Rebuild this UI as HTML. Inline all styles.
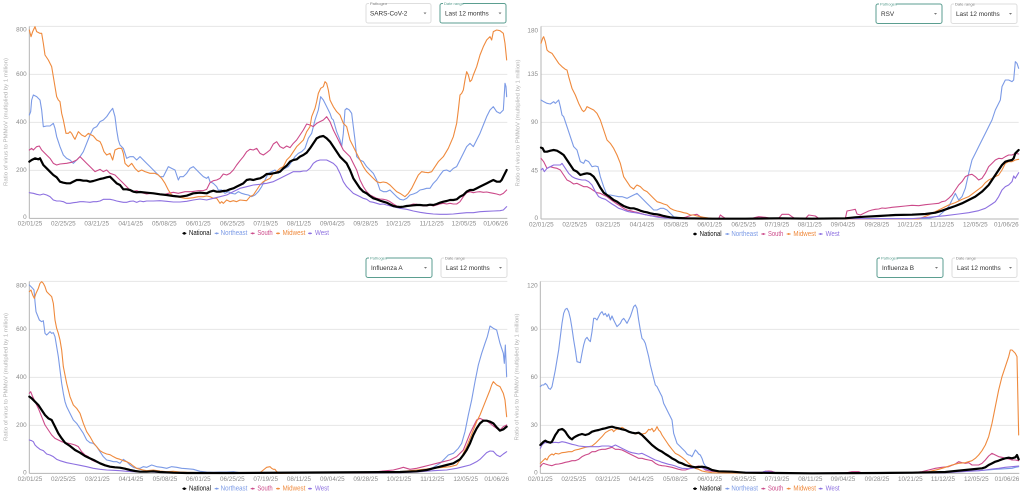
<!DOCTYPE html>
<html><head><meta charset="utf-8"><style>
html,body{margin:0;padding:0;background:#fff;}
svg{display:block;font-family:"Liberation Sans",sans-serif;}
</style></head><body>
<svg width="1024" height="496" viewBox="0 0 1024 496" xmlns="http://www.w3.org/2000/svg">
<defs>
<style>
.g{stroke:#e6e6e6;stroke-width:3;fill:none}
.ax{stroke:#b5b5b5;stroke-width:3;fill:none}
.yl{font-size:19px;fill:#8a8a8a;text-anchor:end;dominant-baseline:middle}
.xl{font-size:19px;fill:#8a8a8a;text-anchor:middle;dominant-baseline:middle}
.lg{font-size:21px;dominant-baseline:middle}
.s{fill:none;stroke-width:3.3;stroke-linejoin:round;stroke-linecap:round}
.ne{stroke:#7b9ae6}.so{stroke:#cc4a8a}.mw{stroke:#ef8a3d}.we{stroke:#8d70e0}.na{stroke:#000;stroke-width:6.6}
.at{font-size:5.4px;fill:#b0b0b0;text-anchor:middle;dominant-baseline:middle}
.cl{font-size:4px;fill:#777}
.cv{font-size:6.4px;fill:#333;dominant-baseline:middle}
</style>
<g id="leg">
<line x1="547" y1="0" x2="559" y2="0" stroke="#000" stroke-width="3"/><circle cx="553" cy="0" r="4" fill="#000"/><text class="lg" x="567" y="0" fill="#111" textLength="66" lengthAdjust="spacingAndGlyphs">National</text>
<line x1="644" y1="0" x2="656" y2="0" stroke="#7b9ae6" stroke-width="3"/><circle cx="650" cy="0" r="3" fill="#7b9ae6"/><text class="lg" x="662" y="0" fill="#7b9ae6" textLength="80" lengthAdjust="spacingAndGlyphs">Northeast</text>
<line x1="752" y1="0" x2="764" y2="0" stroke="#cc4a8a" stroke-width="3"/><circle cx="758" cy="0" r="3" fill="#cc4a8a"/><text class="lg" x="772" y="0" fill="#cc4a8a" textLength="46" lengthAdjust="spacingAndGlyphs">South</text>
<line x1="828" y1="0" x2="840" y2="0" stroke="#ef8a3d" stroke-width="3"/><circle cx="834" cy="0" r="3" fill="#ef8a3d"/><text class="lg" x="848" y="0" fill="#ef8a3d" textLength="68" lengthAdjust="spacingAndGlyphs">Midwest</text>
<line x1="924" y1="0" x2="936" y2="0" stroke="#8d70e0" stroke-width="3"/><circle cx="930" cy="0" r="3" fill="#8d70e0"/><text class="lg" x="945" y="0" fill="#8d70e0" textLength="42" lengthAdjust="spacingAndGlyphs">West</text>
</g>
</defs>

<!-- ============ TOP LEFT ============ -->
<g transform="translate(0,0) scale(0.33333)">
<line class="g" x1="88" y1="79" x2="1522" y2="79"/><line class="g" x1="88" y1="223" x2="1522" y2="223"/><line class="g" x1="88" y1="367" x2="1522" y2="367"/><line class="g" x1="88" y1="511" x2="1522" y2="511"/>
<line class="ax" x1="88" y1="79" x2="88" y2="655"/><line class="ax" x1="88" y1="655" x2="1522" y2="655"/>
<text class="yl" x="80" y="90">800</text><text class="yl" x="80" y="223">600</text><text class="yl" x="80" y="367">400</text><text class="yl" x="80" y="511">200</text><text class="yl" x="80" y="652">0</text>
<text class="xl" x="90" y="672">02/01/25</text><text class="xl" x="190" y="672">02/25/25</text><text class="xl" x="290" y="672">03/21/25</text><text class="xl" x="392" y="672">04/14/25</text><text class="xl" x="493" y="672">05/08/25</text><text class="xl" x="595" y="672">06/01/25</text><text class="xl" x="697" y="672">06/25/25</text><text class="xl" x="797" y="672">07/19/25</text><text class="xl" x="897" y="672">08/11/25</text><text class="xl" x="997" y="672">09/04/25</text><text class="xl" x="1097" y="672">09/28/25</text><text class="xl" x="1195" y="672">10/21/25</text><text class="xl" x="1295" y="672">11/12/25</text><text class="xl" x="1392" y="672">12/05/25</text><text class="xl" x="1487" y="672">01/06/26</text>

<polyline class="s ne" points="88,345 92,335 95,300 100,285 110,290 120,300 125,330 130,380 140,378 150,378 160,370 165,385 170,410 180,440 190,465 200,475 210,480 220,490 230,480 240,470 250,455 260,430 270,405 280,385 290,380 300,365 310,360 320,350 330,335 338,325 345,350 350,390 355,420 360,435 370,445 380,475 390,470 400,470 410,480 420,470 430,480 440,490 450,500 460,510 470,520 480,530 490,530 500,510 505,500 515,505 525,510 535,540 540,530 550,530 560,520 570,505 580,500 590,510 600,520 610,530 620,535 625,530 630,545 640,550 650,560 655,570 665,570 675,580 685,575 695,580 705,582 715,575 725,580 735,583 745,585 755,590 765,585 775,575 785,560 795,540 805,520 815,515 825,510 835,520 845,510 855,505 865,500 875,485 885,470 895,460 905,455 915,445 925,415 935,400 945,360 955,330 962,290 970,300 980,320 990,340 995,355 1000,360 1010,395 1020,420 1025,440 1030,400 1035,330 1040,325 1048,330 1055,340 1060,380 1065,420 1070,470 1080,480 1090,485 1100,500 1110,510 1120,520 1130,540 1140,570 1150,575 1160,575 1170,570 1180,580 1190,590 1200,598 1210,600 1220,595 1230,585 1240,582 1250,578 1260,570 1270,568 1280,565 1290,565 1300,550 1310,540 1320,525 1330,512 1340,510 1350,515 1360,505 1370,500 1380,480 1390,460 1400,440 1410,430 1420,440 1430,420 1440,400 1450,375 1460,350 1470,330 1480,320 1490,335 1500,340 1510,330 1515,250 1518,260 1520,290"/>
<polyline class="s so" points="88,450 95,445 100,450 110,440 118,438 125,450 135,460 150,475 160,490 170,495 180,492 200,490 215,487 230,480 240,470 250,480 260,490 270,500 285,515 300,508 310,515 320,510 330,520 345,525 355,535 365,545 375,555 385,565 395,575 410,572 425,578 440,582 455,580 470,582 490,585 505,580 520,577 535,580 555,575 575,575 595,572 610,572 620,568 630,548 640,542 650,540 660,535 670,522 680,525 690,520 700,510 710,495 720,482 730,470 740,455 750,448 760,450 770,445 780,460 790,465 800,458 810,450 820,432 830,425 840,440 850,445 860,438 870,443 880,430 890,420 900,405 910,390 920,372 930,375 940,380 950,370 960,365 970,360 975,355 980,350 990,365 1000,390 1010,410 1020,430 1030,450 1040,460 1050,470 1060,490 1070,510 1080,540 1090,560 1100,575 1110,585 1120,590 1130,595 1140,597 1150,598 1160,600 1170,605 1180,612 1190,618 1200,620 1210,620 1220,618 1230,615 1240,612 1250,613 1260,615 1270,618 1280,618 1290,615 1300,618 1310,615 1320,612 1330,610 1340,612 1350,610 1360,612 1370,612 1380,605 1390,590 1400,578 1410,575 1420,578 1430,576 1440,575 1450,577 1460,576 1470,578 1480,580 1490,582 1500,585 1510,580 1520,570"/>
<polyline class="s mw" points="88,90 93,110 98,95 105,80 110,95 120,100 125,100 130,130 135,165 145,180 155,200 160,230 165,260 170,290 175,300 180,305 185,340 190,360 198,400 205,400 210,395 215,400 220,410 225,418 235,395 245,405 255,410 265,400 280,408 290,420 300,425 305,435 312,455 320,465 330,460 338,480 345,450 355,445 365,445 370,460 375,490 385,500 395,490 405,505 415,515 425,510 435,515 450,520 465,520 475,525 485,535 495,550 505,570 515,585 525,590 540,592 555,595 565,595 580,593 595,590 610,590 620,588 630,590 640,595 650,595 660,610 665,605 670,610 680,600 690,605 700,602 710,605 720,600 740,602 750,590 760,585 770,570 780,555 790,545 800,540 810,535 820,520 830,515 840,505 850,500 860,480 870,470 880,455 890,440 900,430 910,420 920,395 930,380 935,350 945,325 950,305 955,280 962,265 970,260 975,245 980,250 985,270 990,300 995,310 1000,320 1010,335 1020,345 1030,370 1040,380 1045,400 1050,420 1060,440 1070,460 1080,480 1090,500 1100,515 1110,525 1120,535 1130,545 1140,548 1150,546 1160,548 1170,555 1180,565 1190,575 1200,580 1215,590 1225,580 1235,565 1245,545 1255,525 1265,515 1275,517 1285,518 1295,515 1305,500 1315,485 1330,470 1345,445 1360,410 1370,370 1375,330 1380,285 1385,280 1390,270 1395,240 1400,215 1405,225 1410,245 1415,240 1420,225 1430,200 1440,165 1450,140 1460,120 1470,110 1475,120 1480,95 1490,90 1500,92 1510,100 1515,130 1520,180"/>
<polyline class="s we" points="88,578 100,580 110,583 120,585 130,582 140,585 150,590 160,600 170,603 180,603 190,605 200,610 210,610 220,608 230,607 240,605 250,605 260,606 270,607 280,605 290,605 300,603 310,598 320,598 330,598 340,600 350,603 360,605 370,607 380,607 390,604 400,603 410,607 420,603 430,605 440,603 460,603 480,602 500,604 520,606 540,606 560,604 580,600 600,597 620,600 640,595 660,590 680,585 700,575 720,565 740,560 760,555 780,553 800,550 820,545 840,535 860,525 870,520 880,515 900,515 910,513 920,513 930,505 940,490 950,483 960,480 970,480 980,480 990,485 1000,490 1010,500 1020,520 1030,545 1040,560 1050,570 1060,580 1070,585 1080,590 1090,595 1100,598 1110,605 1120,607 1130,610 1140,613 1150,612 1160,615 1180,620 1200,625 1220,628 1240,633 1260,637 1280,640 1300,642 1320,643 1340,643 1360,642 1380,640 1400,638 1420,638 1440,635 1460,634 1480,633 1500,632 1510,630 1520,620"/>
<polyline class="s na" points="88,485 95,480 105,475 115,478 120,475 130,495 140,505 150,515 160,525 170,532 180,545 190,548 200,550 210,550 220,545 230,540 240,540 250,542 260,542 270,545 280,543 290,540 300,537 310,535 320,532 330,530 340,540 350,550 360,555 370,568 380,568 390,570 400,575 410,577 420,576 440,578 460,580 480,583 500,585 520,588 540,590 560,587 580,580 600,578 620,580 630,575 640,572 650,575 660,575 670,573 680,572 690,568 700,565 710,560 720,555 730,550 740,540 750,538 760,540 770,537 780,535 790,530 800,522 810,522 820,520 830,518 840,515 850,505 860,497 870,485 880,480 890,478 900,470 910,465 920,458 930,445 940,430 950,415 960,410 970,408 980,415 990,425 1000,440 1010,455 1020,470 1030,480 1040,490 1050,510 1060,535 1070,550 1080,565 1090,575 1100,580 1110,588 1120,595 1130,598 1140,602 1150,605 1160,608 1170,613 1180,618 1190,620 1200,621 1210,620 1220,618 1230,617 1240,616 1250,615 1260,615 1270,616 1280,616 1290,614 1300,615 1310,612 1320,608 1330,605 1340,603 1350,600 1360,600 1370,598 1380,590 1390,585 1400,575 1410,570 1420,570 1430,565 1440,560 1450,555 1460,550 1470,545 1480,540 1490,545 1500,545 1505,540 1510,530 1520,510"/>
<use href="#leg" transform="translate(0,700)"/>
</g>

<!-- ============ TOP RIGHT ============ -->
<g transform="translate(512,0) scale(0.33333)">
<line class="g" x1="87" y1="79" x2="1520" y2="79"/><line class="g" x1="87" y1="223" x2="1520" y2="223"/><line class="g" x1="87" y1="367" x2="1520" y2="367"/><line class="g" x1="87" y1="513" x2="1520" y2="513"/>
<line class="ax" x1="87" y1="79" x2="87" y2="657"/><line class="ax" x1="87" y1="657" x2="1520" y2="657"/>
<text class="yl" x="78" y="92">180</text><text class="yl" x="78" y="223">135</text><text class="yl" x="78" y="367">90</text><text class="yl" x="78" y="513">45</text><text class="yl" x="78" y="655">0</text>
<text class="xl" x="88" y="674">02/01/25</text><text class="xl" x="188" y="674">02/25/25</text><text class="xl" x="288" y="674">03/21/25</text><text class="xl" x="390" y="674">04/14/25</text><text class="xl" x="492" y="674">05/08/25</text><text class="xl" x="593" y="674">06/01/25</text><text class="xl" x="695" y="674">06/25/25</text><text class="xl" x="795" y="674">07/19/25</text><text class="xl" x="893" y="674">08/11/25</text><text class="xl" x="993" y="674">09/04/25</text><text class="xl" x="1095" y="674">09/28/25</text><text class="xl" x="1193" y="674">10/21/25</text><text class="xl" x="1290" y="674">11/12/25</text><text class="xl" x="1390" y="674">12/05/25</text><text class="xl" x="1483" y="674">01/06/26</text>

<polyline class="s ne" points="87,300 95,305 105,310 115,312 125,305 130,310 140,300 145,320 150,345 155,350 165,380 175,410 185,440 195,450 205,485 215,490 220,480 230,485 240,500 250,498 258,500 265,530 275,560 285,585 295,585 310,588 320,590 330,590 345,595 355,590 365,585 375,580 385,590 395,600 405,610 415,620 425,630 435,630 445,625 455,625 465,630 475,640 485,650 495,652 510,654 530,655 600,656 1200,656 1250,655 1280,648 1300,630 1310,620 1320,600 1330,580 1340,600 1350,590 1360,565 1370,520 1380,480 1390,460 1400,440 1410,420 1420,400 1430,380 1440,360 1450,330 1460,310 1465,300 1470,260 1480,240 1490,240 1500,245 1505,240 1510,185 1515,190 1520,205"/>
<polyline class="s so" points="87,475 95,485 105,505 115,500 125,503 135,505 145,510 155,525 165,540 175,545 185,552 195,550 205,555 215,560 225,560 235,565 245,572 255,578 265,580 275,585 285,590 295,598 305,605 315,612 325,618 335,625 345,630 355,632 365,635 375,637 385,640 395,643 405,645 415,647 425,648 440,650 460,652 480,654 500,655 520,652 540,645 555,643 565,650 580,655 600,656 620,656 625,645 632,650 640,655 660,656 700,656 720,655 740,650 760,652 780,656 800,655 810,643 830,643 840,650 850,656 880,656 890,645 910,648 920,655 940,656 1000,655 1005,633 1020,630 1030,628 1035,642 1045,645 1055,640 1070,633 1080,630 1090,628 1100,627 1110,624 1120,625 1140,622 1160,620 1180,618 1200,616 1220,617 1240,614 1260,612 1280,610 1290,605 1300,603 1310,595 1320,585 1330,570 1340,555 1350,545 1360,530 1370,525 1380,523 1390,530 1400,540 1410,535 1420,520 1430,500 1440,490 1450,480 1460,475 1470,476 1480,470 1490,465 1500,465 1510,460 1520,462"/>
<polyline class="s mw" points="87,130 92,115 95,110 100,125 105,150 110,155 120,160 130,175 140,190 150,200 160,208 165,210 170,230 180,265 190,285 200,310 210,330 215,335 220,330 225,320 235,325 245,330 255,340 265,360 275,390 285,420 295,430 305,445 315,465 325,490 335,530 345,545 355,560 365,567 370,560 375,555 385,560 395,570 405,575 415,585 425,595 435,605 445,608 455,612 465,615 475,625 485,630 495,633 505,635 515,638 525,640 535,645 545,645 555,648 565,650 575,652 590,654 600,655 620,656 680,657 1220,657 1250,645 1270,635 1290,625 1310,615 1330,608 1350,598 1370,590 1390,575 1410,560 1420,548 1430,540 1440,535 1450,530 1460,525 1470,510 1480,490 1490,485 1500,485 1510,480 1520,478"/>
<polyline class="s we" points="87,510 92,505 97,515 105,505 115,500 125,495 135,495 145,495 150,490 160,505 170,520 180,530 190,535 200,538 210,540 220,540 230,545 240,555 250,575 260,590 270,595 280,598 290,605 300,612 310,618 320,625 330,628 340,632 350,635 360,637 370,638 380,640 390,642 400,644 410,646 420,648 430,650 440,652 460,654 480,655 500,656 1200,656 1250,652 1300,647 1340,642 1370,638 1400,632 1420,625 1440,612 1450,605 1460,590 1470,570 1480,560 1490,555 1500,545 1505,528 1510,535 1520,518"/>
<polyline class="s na" points="87,443 92,445 97,455 105,455 115,452 125,450 135,452 145,458 155,465 165,480 175,495 185,510 195,515 205,525 215,522 225,520 235,522 245,530 255,545 265,563 275,578 285,585 295,592 305,600 315,605 325,612 335,618 345,622 355,625 365,625 375,628 385,632 395,635 405,637 415,640 425,642 435,643 445,645 455,648 465,650 475,652 485,653 500,654 520,655 600,656 700,656 800,655 900,656 1000,655 1030,652 1060,650 1100,648 1150,645 1200,644 1240,642 1270,638 1290,632 1310,625 1330,618 1350,610 1370,600 1390,590 1410,575 1430,555 1440,540 1450,525 1460,510 1470,495 1480,485 1490,482 1500,480 1505,475 1510,460 1515,455 1520,450"/>
<use href="#leg" transform="translate(-4,702)"/>
</g>

<!-- ============ BOTTOM LEFT ============ -->
<g transform="translate(0,250) scale(0.33333)">
<line class="g" x1="88" y1="94" x2="1522" y2="94"/><line class="g" x1="88" y1="238" x2="1522" y2="238"/><line class="g" x1="88" y1="382" x2="1522" y2="382"/><line class="g" x1="88" y1="526" x2="1522" y2="526"/>
<line class="ax" x1="88" y1="94" x2="88" y2="670"/><line class="ax" x1="88" y1="670" x2="1522" y2="670"/>
<text class="yl" x="80" y="107">800</text><text class="yl" x="80" y="238">600</text><text class="yl" x="80" y="382">400</text><text class="yl" x="80" y="526">200</text><text class="yl" x="80" y="668">0</text>
<text class="xl" x="90" y="688">02/01/25</text><text class="xl" x="190" y="688">02/25/25</text><text class="xl" x="292" y="688">03/21/25</text><text class="xl" x="393" y="688">04/14/25</text><text class="xl" x="495" y="688">05/08/25</text><text class="xl" x="595" y="688">06/01/25</text><text class="xl" x="697" y="688">06/25/25</text><text class="xl" x="797" y="688">07/19/25</text><text class="xl" x="897" y="688">08/11/25</text><text class="xl" x="997" y="688">09/04/25</text><text class="xl" x="1097" y="688">09/28/25</text><text class="xl" x="1197" y="688">10/21/25</text><text class="xl" x="1297" y="688">11/12/25</text><text class="xl" x="1397" y="688">12/05/25</text><text class="xl" x="1490" y="688">01/06/26</text>

<polyline class="s ne" points="88,105 93,110 98,115 102,120 105,155 108,185 112,195 118,210 125,215 130,212 135,250 140,255 145,250 150,245 155,250 160,248 165,260 170,290 175,320 180,360 185,400 190,430 195,455 200,470 210,490 220,510 230,520 240,535 250,550 260,570 270,578 280,580 290,590 300,605 310,620 320,630 330,632 340,635 350,635 360,640 370,628 380,635 390,645 400,652 410,655 420,655 430,650 440,652 455,645 470,650 485,652 500,655 515,650 530,652 545,655 560,656 580,658 600,664 620,666 640,667 660,666 680,666 700,665 720,668 740,668 760,669 780,668 800,669 900,668 1000,669 1100,668 1150,667 1200,666 1250,664 1280,660 1300,652 1320,640 1335,625 1345,615 1360,610 1375,595 1385,580 1395,545 1405,495 1415,450 1425,395 1435,345 1445,310 1455,280 1462,260 1470,228 1480,235 1490,240 1500,280 1510,310 1513,340 1516,285 1520,380"/>
<polyline class="s so" points="88,430 92,425 98,440 105,455 115,475 125,500 135,525 145,540 155,555 165,565 175,570 185,575 195,578 205,580 215,582 225,585 235,590 245,605 255,615 265,620 275,630 285,635 300,640 315,645 330,650 345,652 360,653 375,655 390,660 405,663 420,665 440,664 460,662 480,665 500,666 560,668 700,669 1100,668 1180,660 1200,655 1210,652 1220,655 1230,658 1250,655 1270,650 1290,645 1310,640 1330,635 1350,630 1370,620 1390,600 1400,575 1410,550 1420,530 1430,510 1440,505 1450,510 1460,512 1470,520 1480,528 1490,535 1500,540 1510,530 1520,525"/>
<polyline class="s mw" points="88,125 93,120 98,135 103,145 108,130 115,115 120,100 125,95 130,100 135,110 140,125 145,130 150,135 155,140 160,160 165,210 170,235 175,250 180,270 185,300 190,350 200,400 210,440 220,465 230,475 240,490 250,520 260,545 270,560 280,578 290,590 300,602 310,608 320,612 330,614 340,620 350,625 360,628 370,632 380,635 390,640 400,648 410,655 420,658 430,660 440,662 460,660 480,663 500,665 520,664 540,666 560,667 600,668 700,669 780,668 790,660 800,652 810,650 815,655 820,658 825,658 830,665 840,670 900,669 1000,669 1100,668 1200,665 1250,660 1300,655 1350,650 1370,645 1380,630 1390,610 1400,590 1410,565 1420,540 1430,515 1440,495 1450,470 1460,445 1470,420 1475,405 1480,395 1485,400 1490,405 1500,410 1505,420 1510,430 1515,450 1520,500"/>
<polyline class="s we" points="88,570 95,572 100,575 105,585 110,590 120,598 130,602 140,612 150,615 160,620 170,628 180,632 190,635 200,638 220,642 240,646 260,650 280,655 300,658 320,660 340,661 360,662 380,664 400,665 450,666 500,668 600,669 1200,668 1250,666 1300,662 1340,660 1370,655 1390,650 1410,645 1420,640 1430,635 1440,628 1450,618 1460,608 1470,603 1480,604 1490,615 1500,620 1510,612 1520,605"/>
<polyline class="s na" points="88,440 95,445 105,455 115,465 125,480 135,495 145,505 155,510 165,530 175,550 185,565 195,578 210,588 225,600 240,608 255,618 270,625 285,632 300,640 315,646 330,650 345,652 360,653 375,656 390,660 405,663 420,665 440,665 460,664 480,666 500,667 520,668 560,669 600,669 700,669 1200,666 1250,664 1280,660 1300,655 1320,650 1340,645 1360,640 1380,628 1390,615 1400,600 1410,580 1420,555 1430,535 1440,520 1450,512 1460,512 1470,515 1480,520 1490,532 1500,542 1505,540 1510,538 1520,530"/>
<use href="#leg" transform="translate(0,716)"/>
</g>

<!-- ============ BOTTOM RIGHT ============ -->
<g transform="translate(512,250) scale(0.33333)">
<line class="g" x1="85" y1="94" x2="1522" y2="94"/><line class="g" x1="85" y1="238" x2="1522" y2="238"/><line class="g" x1="85" y1="382" x2="1522" y2="382"/><line class="g" x1="85" y1="526" x2="1522" y2="526"/>
<line class="ax" x1="85" y1="94" x2="85" y2="670"/><line class="ax" x1="85" y1="670" x2="1522" y2="670"/>
<text class="yl" x="77" y="107">120</text><text class="yl" x="77" y="238">90</text><text class="yl" x="77" y="382">60</text><text class="yl" x="77" y="526">30</text><text class="yl" x="77" y="668">0</text>
<text class="xl" x="85" y="688">02/01/25</text><text class="xl" x="185" y="688">02/25/25</text><text class="xl" x="287" y="688">03/21/25</text><text class="xl" x="388" y="688">04/14/25</text><text class="xl" x="490" y="688">05/08/25</text><text class="xl" x="593" y="688">06/01/25</text><text class="xl" x="695" y="688">06/25/25</text><text class="xl" x="795" y="688">07/19/25</text><text class="xl" x="895" y="688">08/11/25</text><text class="xl" x="993" y="688">09/04/25</text><text class="xl" x="1095" y="688">09/28/25</text><text class="xl" x="1195" y="688">10/21/25</text><text class="xl" x="1293" y="688">11/12/25</text><text class="xl" x="1393" y="688">12/05/25</text><text class="xl" x="1485" y="688">01/06/26</text>

<polyline class="s ne" points="85,410 90,405 95,405 100,400 105,405 110,415 115,418 120,410 125,385 130,360 135,330 140,300 145,260 150,220 155,190 160,178 165,175 170,185 175,205 180,235 185,270 190,300 195,335 205,338 210,310 215,285 220,268 225,262 230,270 235,275 240,245 245,205 250,205 255,210 260,200 265,190 270,185 275,195 280,190 285,200 290,192 295,210 300,198 305,210 310,220 315,230 320,225 325,220 330,210 335,205 340,212 345,220 350,210 355,200 360,185 365,170 370,165 375,175 380,210 385,240 390,265 395,270 400,280 405,300 410,320 415,345 420,365 425,385 430,405 435,410 440,420 445,430 450,440 455,460 460,470 465,480 470,490 475,500 480,510 485,550 490,565 495,580 500,585 505,590 510,595 515,600 520,605 525,612 530,615 535,616 540,620 545,610 550,600 555,605 560,612 565,615 570,625 575,640 580,648 590,655 600,660 620,663 650,665 700,667 750,668 800,669 900,669 1200,668 1250,667 1300,665 1350,663 1400,662 1450,658 1500,655 1510,652 1520,650"/>
<polyline class="s so" points="85,650 90,643 95,640 100,642 110,645 120,647 130,643 140,642 150,640 160,637 170,635 180,632 190,632 200,628 210,620 220,615 230,612 240,605 250,605 260,600 270,598 280,598 290,595 300,592 310,598 320,598 330,600 340,605 350,610 360,615 370,620 380,625 390,625 400,628 410,630 420,632 430,640 440,645 450,647 460,648 470,650 480,652 490,655 500,658 510,660 520,660 530,657 540,652 550,650 560,648 570,652 580,660 590,662 600,664 650,666 700,668 750,667 760,664 770,663 780,664 790,668 800,669 900,670 1000,669 1020,665 1040,665 1050,669 1200,668 1230,665 1250,660 1270,655 1290,652 1310,650 1330,642 1340,635 1350,638 1360,640 1370,638 1380,645 1390,645 1400,645 1410,640 1420,630 1430,618 1440,610 1450,615 1460,620 1470,622 1480,625 1490,627 1500,630 1510,630 1520,632"/>
<polyline class="s mw" points="85,640 90,635 95,630 100,625 105,630 110,620 115,615 120,612 125,615 130,610 140,612 150,608 160,607 170,605 180,605 185,602 190,600 200,598 210,595 220,592 230,590 240,588 250,580 260,570 270,560 280,548 290,542 300,538 305,545 310,540 315,537 320,538 330,532 335,535 340,540 350,545 360,548 370,552 380,550 390,552 400,550 405,545 410,538 415,540 420,535 425,545 430,540 435,530 440,540 445,545 450,555 460,570 470,585 480,598 490,610 500,615 510,622 520,630 530,640 540,648 550,655 560,658 570,663 580,665 600,668 650,669 800,670 1000,669 1200,668 1250,665 1280,658 1300,652 1320,645 1340,640 1360,638 1380,632 1390,625 1400,615 1410,602 1420,585 1430,560 1440,520 1450,470 1460,420 1470,380 1480,350 1490,320 1495,300 1500,300 1505,305 1510,310 1515,320 1520,555"/>
<polyline class="s we" points="85,595 90,585 95,580 100,578 120,578 130,577 140,578 150,575 160,577 170,580 180,583 190,585 200,588 220,590 260,590 270,588 290,588 300,590 310,585 320,590 330,595 340,600 350,605 360,608 370,610 380,612 390,610 400,615 410,620 420,625 430,630 440,633 450,637 460,640 470,643 480,645 490,648 500,652 510,655 530,656 540,655 550,653 560,652 570,653 580,658 590,660 600,662 620,664 650,665 700,667 750,667 760,664 780,666 800,669 900,670 1200,669 1300,668 1350,665 1400,662 1420,660 1440,657 1460,655 1480,652 1500,650 1520,648"/>
<polyline class="s na" points="85,585 90,580 95,575 100,572 105,575 115,578 120,575 125,565 130,555 135,548 140,540 150,537 155,540 160,545 165,553 170,560 175,565 180,568 185,563 190,560 200,555 210,552 220,555 230,552 240,545 250,542 260,540 270,537 280,535 290,532 300,530 310,533 320,535 330,538 340,540 350,545 360,548 370,550 380,548 390,555 400,565 410,575 420,585 430,593 440,600 450,605 460,612 470,618 480,625 490,630 500,637 510,640 520,645 530,648 540,650 550,652 560,651 570,650 580,652 590,655 600,660 610,662 620,664 660,665 700,668 800,669 900,670 1100,669 1200,668 1250,667 1300,666 1330,663 1360,660 1390,657 1410,655 1420,652 1430,645 1440,640 1450,635 1460,632 1470,628 1480,625 1490,623 1500,625 1510,622 1515,615 1520,628"/>
<use href="#leg" transform="translate(-4,716)"/>
</g>

<!-- Axis titles -->
<text class="at" transform="translate(6,122) rotate(-90)" textLength="128" lengthAdjust="spacingAndGlyphs">Ratio of virus to PMMoV (multiplied by 1 million)</text>
<text class="at" transform="translate(518,123) rotate(-90)" textLength="127" lengthAdjust="spacingAndGlyphs">Ratio of virus to PMMoV (multiplied by 1 million)</text>
<text class="at" transform="translate(6,377) rotate(-90)" textLength="128" lengthAdjust="spacingAndGlyphs">Ratio of virus to PMMoV (multiplied by 1 million)</text>
<text class="at" transform="translate(517,377) rotate(-90)" textLength="127" lengthAdjust="spacingAndGlyphs">Ratio of virus to PMMoV (multiplied by 1 million)</text>

<!-- Controls -->
<!-- TL -->
<rect x="366" y="3.5" width="65" height="19.5" rx="2" fill="#fff" stroke="#dedede"/>
<rect x="369" y="1.5" width="17" height="4" fill="#fff"/><text class="cl" x="370" y="5">Pathogen</text>
<text class="cv" x="370" y="14">SARS-CoV-2</text><path d="M423.5,12.5 l3,0 l-1.5,1.8 z" fill="#777"/>
<rect x="440" y="3.5" width="66" height="19.5" rx="2" fill="#fff" stroke="#5b9e90"/>
<rect x="443" y="1.5" width="20" height="4" fill="#fff"/><text class="cl" x="444" y="5" style="fill:#5b9e90">Date range</text>
<text class="cv" x="445" y="14">Last 12 months</text><path d="M498.5,12.5 l3,0 l-1.5,1.8 z" fill="#777"/>
<!-- TR -->
<rect x="876" y="4" width="66" height="19.5" rx="2" fill="#fff" stroke="#5b9e90"/>
<rect x="879" y="2" width="17" height="4" fill="#fff"/><text class="cl" x="880" y="5.5" style="fill:#5b9e90">Pathogen</text>
<text class="cv" x="881" y="14.5">RSV</text><path d="M934,13 l3,0 l-1.5,1.8 z" fill="#777"/>
<rect x="951" y="4" width="66" height="19.5" rx="2" fill="#fff" stroke="#dedede"/>
<rect x="954" y="2" width="20" height="4" fill="#fff"/><text class="cl" x="955" y="5.5">Date range</text>
<text class="cv" x="956" y="14.5">Last 12 months</text><path d="M1009,13 l3,0 l-1.5,1.8 z" fill="#777"/>
<!-- BL -->
<rect x="366" y="258" width="66" height="19.5" rx="2" fill="#fff" stroke="#5b9e90"/>
<rect x="369" y="256" width="17" height="4" fill="#fff"/><text class="cl" x="370" y="259.5" style="fill:#5b9e90">Pathogen</text>
<text class="cv" x="371" y="268.5">Influenza A</text><path d="M424,267 l3,0 l-1.5,1.8 z" fill="#777"/>
<rect x="441" y="258" width="66" height="19.5" rx="2" fill="#fff" stroke="#dedede"/>
<rect x="444" y="256" width="20" height="4" fill="#fff"/><text class="cl" x="445" y="259.5">Date range</text>
<text class="cv" x="446" y="268.5">Last 12 months</text><path d="M499,267 l3,0 l-1.5,1.8 z" fill="#777"/>
<!-- BR -->
<rect x="877" y="258" width="66" height="19.5" rx="2" fill="#fff" stroke="#5b9e90"/>
<rect x="880" y="256" width="17" height="4" fill="#fff"/><text class="cl" x="881" y="259.5" style="fill:#5b9e90">Pathogen</text>
<text class="cv" x="882" y="268.5">Influenza B</text><path d="M935,267 l3,0 l-1.5,1.8 z" fill="#777"/>
<rect x="952" y="258" width="65" height="19.5" rx="2" fill="#fff" stroke="#dedede"/>
<rect x="955" y="256" width="20" height="4" fill="#fff"/><text class="cl" x="956" y="259.5">Date range</text>
<text class="cv" x="957" y="268.5">Last 12 months</text><path d="M1009,267 l3,0 l-1.5,1.8 z" fill="#777"/>
</svg>
</body></html>
